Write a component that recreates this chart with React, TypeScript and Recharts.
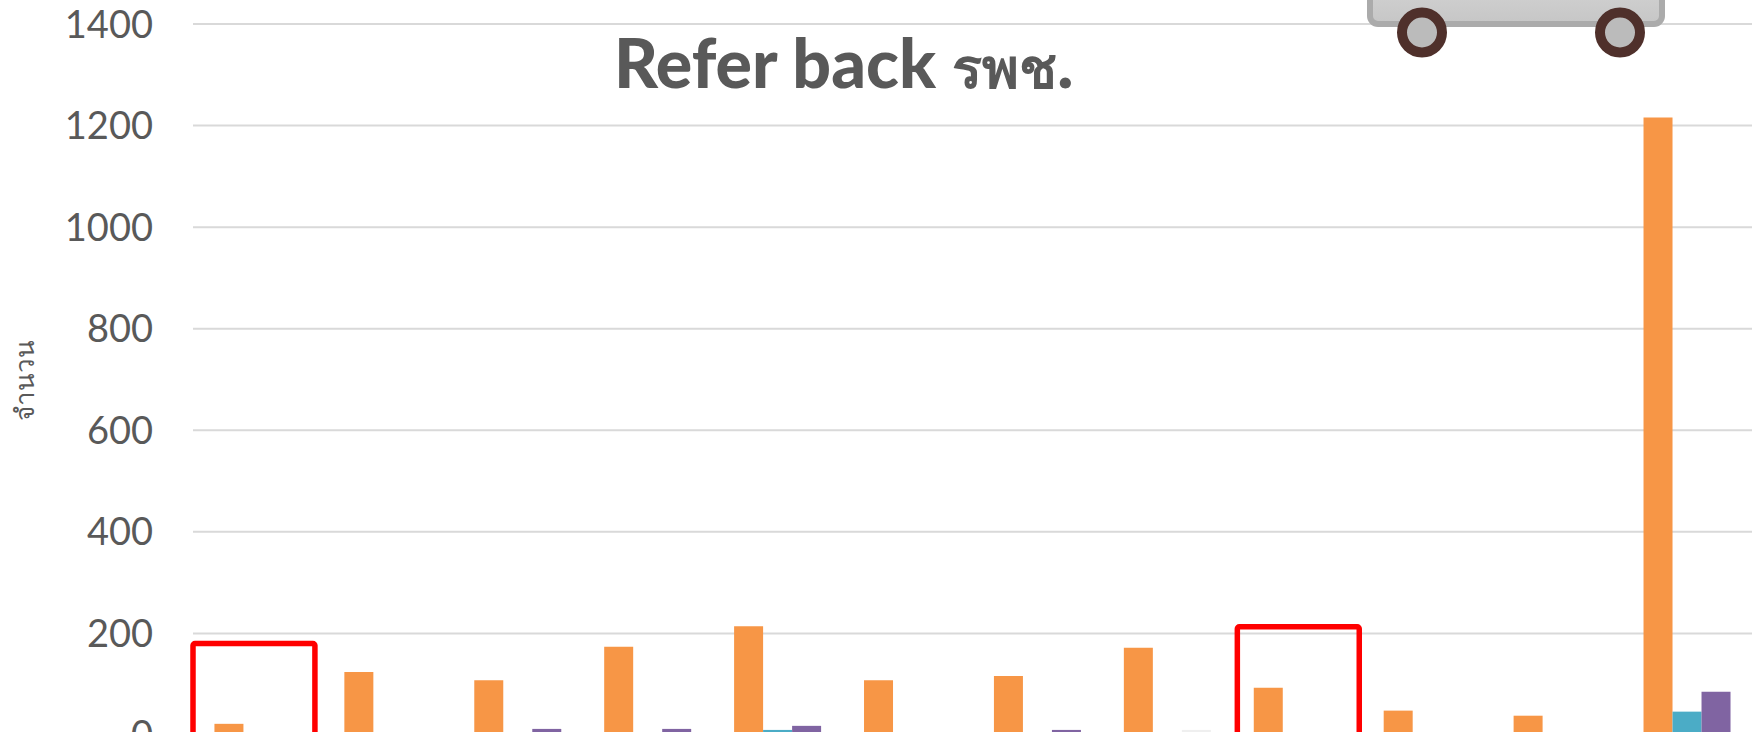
import { BarChart, Bar, Cell, XAxis, YAxis, CartesianGrid, ReferenceArea } from 'recharts';

const months = ['m1', 'm2', 'm3', 'm4', 'm5', 'm6', 'm7', 'm8', 'm9', 'm10', 'm11', 'm12'];
const orangeValues = [22, 124, 108, 174, 214, 108, 116, 172, 93, 48, 38, 1216];
const tealValues = [0, 0, 0, 0, 10, 0, 0, 0, 0, 0, 0, 46];
const purpleValues = [0, 0, 12, 12, 18, 0, 10, 10, 0, 0, 0, 85];
const yTicks = [0, 200, 400, 600, 800, 1000, 1200, 1400];

// the two boxes drawn by hand over the chart: month and height
const box1 = { month: 'm1', top: 180, insetLeft: 0, insetRight: 8 };
const box2 = { month: 'm9', top: 213, insetLeft: 5, insetRight: 3 };

const chartData = months.map((month, i) => ({
  month,
  orange: orangeValues[i],
  teal: tealValues[i],
  purple: purpleValues[i],
}));

const boxShape = (insetLeft: number, insetRight: number) => (props: any) => (
  <rect
    x={props.x + insetLeft}
    y={props.y}
    width={props.width - insetLeft - insetRight}
    height={props.height}
    rx={2}
    fill="none"
    stroke="#FF0000"
    strokeWidth={5.5}
  />
);

function Van() {
  return (
    <svg
      width={340}
      height={70}
      style={{ position: 'absolute', left: 1340, top: 0 }}
    >
      <defs>
        <linearGradient id="vanBody" x1="0" y1="0" x2="0" y2="1">
          <stop offset="0%" stopColor="#DADADA" />
          <stop offset="100%" stopColor="#C6C6C6" />
        </linearGradient>
      </defs>
      <rect x={30} y={-40} width={292} height={64} rx={8} fill="url(#vanBody)" stroke="#ABABAB" strokeWidth={6} />
      <circle cx={82} cy={32.5} r={20} fill="#BBBBBB" stroke="#4F302B" strokeWidth={10} />
      <circle cx={280} cy={32.5} r={20} fill="#BBBBBB" stroke="#4F302B" strokeWidth={10} />
    </svg>
  );
}

export default function App() {
  return (
    <div style={{ position: 'fixed', left: 0, top: 0, width: 1762, height: 732, overflow: 'hidden', background: '#fff' }}>
      <BarChart
        width={1762}
        height={760}
        data={chartData}
        margin={{ top: 24, right: 10, left: 0, bottom: 25 }}
        barCategoryGap="16.5%"
        barGap={0}
      >
        <CartesianGrid vertical={false} stroke="#D9D9D9" strokeWidth={2} />
        <XAxis dataKey="month" hide />
        <YAxis
          width={193}
          domain={[0, 1400]}
          ticks={yTicks}
          axisLine={false}
          tickLine={false}
          tickMargin={34}
          tick={{ fontSize: 38, fill: '#595959', fontFamily: 'Lato, "Noto Sans", sans-serif' }}
          label={{
            value: 'จำนวน',
            angle: -90,
            position: 'insideLeft',
            dx: 20,
            dy: 41,
            fontSize: 26,
            fill: '#595959',
            fontFamily: '"Noto Sans", sans-serif',
          }}
        />
        <Bar dataKey="orange" fill="#F79646" isAnimationActive={false} />
        <Bar dataKey="teal" fill="#4BACC6" isAnimationActive={false} />
        <Bar dataKey="purple" fill="#8064A2" isAnimationActive={false}>
          {months.map((month, i) => (
            <Cell key={month} fill={i === 7 ? '#EFEFEF' : '#8064A2'} />
          ))}
        </Bar>
        <ReferenceArea
          x1={box1.month}
          x2={box1.month}
          y1={0}
          y2={box1.top}
          shape={boxShape(box1.insetLeft, box1.insetRight)}
        />
        <ReferenceArea
          x1={box2.month}
          x2={box2.month}
          y1={0}
          y2={box2.top}
          shape={boxShape(box2.insetLeft, box2.insetRight)}
        />
        <text
          x={614}
          y={88}
          textAnchor="start"
          fill="#595959"
          fontSize={68}
          fontWeight={900}
          fontFamily='Lato, "Noto Sans", sans-serif'
        >
          Refer back <tspan fontSize={56} fontWeight={700}>รพช</tspan>.
        </text>
      </BarChart>
      <Van />
    </div>
  );
}
